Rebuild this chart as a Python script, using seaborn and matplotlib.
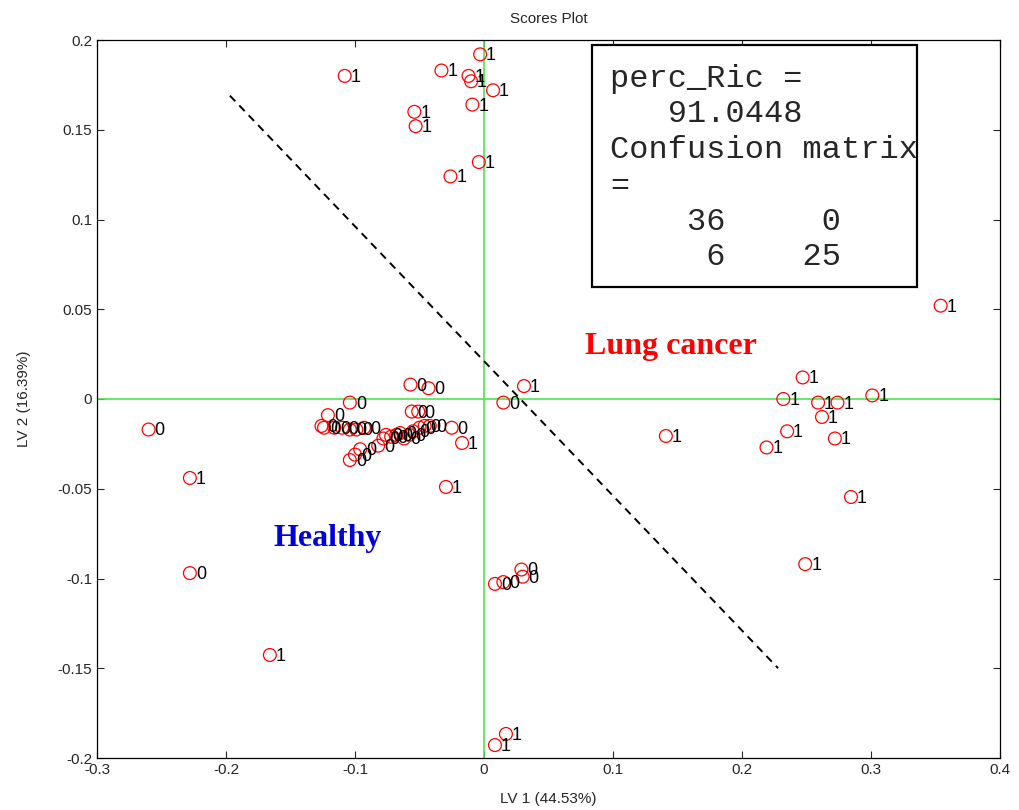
import numpy as np
import pandas as pd
import matplotlib
matplotlib.use("Agg")
import matplotlib.pyplot as plt
from matplotlib.patches import Rectangle
import seaborn as sns

# ---- data ----
x_class0 = [-0.260, -0.228, 0.015, 0.0085, 0.015, 0.029, 0.030,
            -0.057, -0.043, -0.104, -0.056, -0.051, -0.025,
            -0.126, -0.124, -0.121, -0.116, -0.110, -0.104, -0.099, -0.093,
            -0.082, -0.078, -0.076, -0.072, -0.068, -0.065, -0.062, -0.058,
            -0.055, -0.050, -0.046, -0.042,
            -0.104, -0.100, -0.096]
y_class0 = [-0.017, -0.097, -0.002, -0.103, -0.102, -0.095, -0.099,
            0.008, 0.006, -0.002, -0.007, -0.007, -0.016,
            -0.015, -0.016, -0.009, -0.016, -0.016, -0.017, -0.017, -0.016,
            -0.026, -0.022, -0.020, -0.021, -0.020, -0.019, -0.022, -0.020,
            -0.018, -0.016, -0.015, -0.015,
            -0.034, -0.031, -0.028]

x_class1 = [-0.003, -0.108, -0.033, -0.012, -0.010, 0.007, -0.009, -0.054,
            -0.053, -0.004, -0.026,
            0.247, 0.232, 0.259, 0.274, 0.301, 0.262, 0.235, 0.272, 0.219,
            0.354, 0.141, 0.2845, 0.249, 0.031,
            -0.228, -0.166, -0.0295, -0.017, 0.017, 0.0085]
y_class1 = [0.192, 0.180, 0.183, 0.180, 0.177, 0.172, 0.164, 0.160,
            0.152, 0.132, 0.124,
            0.012, 0.000, -0.002, -0.002, 0.002, -0.010, -0.018, -0.022, -0.027,
            0.052, -0.0206, -0.0546, -0.092, 0.0072,
            -0.044, -0.1426, -0.049, -0.0245, -0.1866, -0.1928]

box_text = "perc_Ric =\n   91.0448\nConfusion matrix\n=\n    36     0\n     6    25"
x_ticks = [-0.3, -0.2, -0.1, 0, 0.1, 0.2, 0.3, 0.4]
y_ticks = [-0.2, -0.15, -0.1, -0.05, 0, 0.05, 0.1, 0.15, 0.2]
boundary_x = [-0.197, 0.228]
boundary_y = [0.169, -0.150]

df = pd.DataFrame({
    "LV1": x_class0 + x_class1,
    "LV2": y_class0 + y_class1,
    "cls": ["0"] * len(x_class0) + ["1"] * len(x_class1),
})

sns.set_style("white")
plt.rcParams["font.family"] = ["Liberation Sans", "DejaVu Sans"]

fig = plt.figure(figsize=(10.19, 8.10), dpi=100)
ax = fig.add_axes([97 / 1019, 1 - 758 / 810, (1000 - 97) / 1019, (758 - 40) / 810])

ax.axhline(0, color="#4ee44e", lw=1.2, zorder=1)
ax.axvline(0, color="#4ee44e", lw=1.2, zorder=1)

sns.scatterplot(data=df, x="LV1", y="LV2", ax=ax, marker="o", s=85,
                color="red", facecolor="none", edgecolor="red",
                linewidth=0.9, zorder=3, legend=False)

for xv, yv, c in zip(df["LV1"], df["LV2"], df["cls"]):
    ax.text(xv + 0.0046, yv - 0.0008, c, fontsize=13, color="black",
            ha="left", va="center", zorder=4)

sns.lineplot(x=boundary_x, y=boundary_y, ax=ax, color="black", lw=1.4,
             linestyle=(0, (4, 3)), zorder=2)

ax.text(0.540, 0.573, "Lung cancer", transform=ax.transAxes, color="red",
        fontsize=23, fontweight="bold", family=["Liberation Serif"],
        va="center", ha="left")
ax.text(0.195, 0.306, "Healthy", transform=ax.transAxes, color="#0000dd",
        fontsize=23, fontweight="bold", family=["Liberation Serif"],
        va="center", ha="left")

ax.add_patch(Rectangle((0.548, 0.656), 0.360, 0.337, transform=ax.transAxes,
                       fc="white", ec="black", lw=1.6, zorder=5))
ax.text(0.568, 0.967, box_text, transform=ax.transAxes, va="top", ha="left",
        fontsize=23, family=["Liberation Mono"], linespacing=1.25, zorder=6)

ax.set_xlim(-0.3, 0.4)
ax.set_ylim(-0.2, 0.2)
ax.set_xticks(x_ticks)
ax.set_yticks(y_ticks)
ax.set_xticklabels(["-0.3", "-0.2", "-0.1", "0", "0.1", "0.2", "0.3", "0.4"])
ax.set_yticklabels(["-0.2", "-0.15", "-0.1", "-0.05", "0", "0.05", "0.1", "0.15", "0.2"])
ax.tick_params(direction="in", length=5, labelsize=11, top=True, right=True,
               left=True, bottom=True, width=0.8)
for sp in ax.spines.values():
    sp.set_color("black")
    sp.set_linewidth(0.9)
ax.set_xlabel("LV 1 (44.53%)", fontsize=11, labelpad=11)
ax.set_ylabel("LV 2 (16.39%)", fontsize=11, labelpad=19)
ax.set_title("Scores Plot", fontsize=11, pad=12)

fig.savefig("out.png", dpi=100)
